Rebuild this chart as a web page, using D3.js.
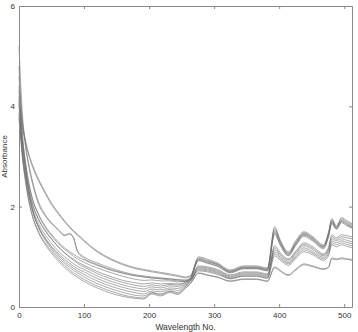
<!DOCTYPE html>
<html>
<head>
<meta charset="utf-8">
<script src="https://cdn.jsdelivr.net/npm/d3@7"></script>
<style>
  body { margin: 0; background: #fff; }
  text { font-family: "Liberation Sans", Arial, sans-serif; }
</style>
</head>
<body>
<div id="chart"></div>
<script>
"use strict"

let wavelengths = [0, 5, 10, 15, 20, 30, 40, 50, 60, 70, 78, 84, 90, 100, 120, 140, 160, 180, 192, 204, 218, 232, 244, 256, 264, 276, 290, 305, 325, 345, 365, 382, 393, 402, 414, 426, 438, 452, 468, 476, 481, 488, 496, 504, 512];

let spectrum1 = [4.0, 3.6, 3.28, 3.02, 2.82, 2.52, 2.27, 2.04, 1.86, 1.7, 1.58, 1.5, 1.43, 1.31, 1.1, 0.95, 0.84, 0.76, 0.73, 0.7, 0.67, 0.64, 0.61, 0.58, 0.62, 0.98, 0.93, 0.86, 0.72, 0.8, 0.8, 0.76, 1.56, 1.3, 1.08, 1.3, 1.48, 1.38, 1.22, 1.48, 1.74, 1.6, 1.76, 1.7, 1.64];
let spectrum2 = [4.15, 3.66, 3.32, 3.06, 2.86, 2.55, 2.3, 2.07, 1.89, 1.72, 1.6, 1.52, 1.45, 1.33, 1.12, 0.97, 0.86, 0.78, 0.75, 0.72, 0.69, 0.66, 0.63, 0.6, 0.63, 1.0, 0.95, 0.88, 0.74, 0.82, 0.82, 0.78, 1.6, 1.33, 1.1, 1.33, 1.5, 1.4, 1.24, 1.5, 1.76, 1.62, 1.78, 1.72, 1.66];
let spectrum3 = [4.6, 3.75, 3.2, 2.8, 2.5, 2.05, 1.82, 1.66, 1.54, 1.42, 1.45, 1.38, 1.12, 1.0, 0.88, 0.78, 0.7, 0.64, 0.62, 0.6, 0.58, 0.56, 0.54, 0.52, 0.56, 0.82, 0.8, 0.75, 0.64, 0.7, 0.7, 0.66, 1.22, 1.08, 0.96, 1.12, 1.28, 1.2, 1.06, 1.2, 1.44, 1.38, 1.44, 1.42, 1.4];
let spectrum4 = [5.2, 3.9, 3.25, 2.85, 2.55, 2.1, 1.85, 1.68, 1.55, 1.44, 1.47, 1.36, 1.1, 0.97, 0.85, 0.75, 0.68, 0.62, 0.6, 0.58, 0.56, 0.54, 0.52, 0.51, 0.55, 0.8, 0.78, 0.73, 0.62, 0.68, 0.68, 0.64, 1.18, 1.05, 0.94, 1.1, 1.25, 1.17, 1.04, 1.16, 1.4, 1.35, 1.4, 1.38, 1.36];
let spectrum5 = [3.9, 3.3, 2.85, 2.45, 2.18, 1.85, 1.62, 1.45, 1.3, 1.18, 1.1, 1.05, 1.0, 0.94, 0.83, 0.74, 0.67, 0.62, 0.6, 0.58, 0.57, 0.56, 0.55, 0.54, 0.6, 0.95, 0.9, 0.84, 0.7, 0.78, 0.78, 0.74, 1.5, 1.27, 1.05, 1.27, 1.45, 1.35, 1.2, 1.44, 1.7, 1.57, 1.72, 1.66, 1.6];
let spectrum6 = [4.3, 3.45, 2.9, 2.5, 2.2, 1.84, 1.6, 1.42, 1.27, 1.15, 1.07, 1.01, 0.96, 0.89, 0.78, 0.69, 0.61, 0.55, 0.53, 0.54, 0.52, 0.52, 0.5, 0.52, 0.58, 0.93, 0.88, 0.82, 0.69, 0.77, 0.77, 0.73, 1.47, 1.24, 1.03, 1.25, 1.43, 1.33, 1.18, 1.42, 1.68, 1.56, 1.7, 1.64, 1.58];
let spectrum7 = [3.8, 3.15, 2.7, 2.35, 2.08, 1.74, 1.52, 1.35, 1.2, 1.08, 1.0, 0.95, 0.9, 0.83, 0.71, 0.61, 0.53, 0.48, 0.46, 0.48, 0.46, 0.47, 0.46, 0.5, 0.57, 0.96, 0.91, 0.85, 0.71, 0.79, 0.79, 0.75, 1.53, 1.28, 1.06, 1.28, 1.46, 1.36, 1.2, 1.45, 1.71, 1.58, 1.73, 1.67, 1.61];
let spectrum8 = [4.05, 3.25, 2.75, 2.38, 2.1, 1.76, 1.54, 1.36, 1.21, 1.08, 0.99, 0.93, 0.87, 0.8, 0.67, 0.57, 0.49, 0.43, 0.41, 0.44, 0.42, 0.45, 0.44, 0.49, 0.57, 0.92, 0.87, 0.81, 0.68, 0.76, 0.76, 0.72, 1.45, 1.22, 1.02, 1.23, 1.41, 1.31, 1.16, 1.4, 1.66, 1.55, 1.68, 1.62, 1.57];
let spectrum9 = [4.4, 3.35, 2.75, 2.32, 2.02, 1.66, 1.44, 1.27, 1.12, 1.0, 0.92, 0.86, 0.81, 0.75, 0.62, 0.52, 0.44, 0.38, 0.36, 0.4, 0.38, 0.42, 0.41, 0.47, 0.54, 0.78, 0.76, 0.71, 0.6, 0.66, 0.66, 0.62, 1.14, 1.02, 0.91, 1.07, 1.22, 1.14, 1.02, 1.14, 1.36, 1.32, 1.36, 1.33, 1.3];
let spectrum10 = [3.75, 3.05, 2.58, 2.22, 1.95, 1.6, 1.38, 1.21, 1.07, 0.95, 0.87, 0.81, 0.76, 0.7, 0.57, 0.47, 0.39, 0.33, 0.31, 0.36, 0.34, 0.38, 0.37, 0.45, 0.53, 0.76, 0.74, 0.69, 0.58, 0.64, 0.64, 0.6, 1.1, 0.99, 0.88, 1.03, 1.18, 1.1, 0.99, 1.1, 1.32, 1.28, 1.32, 1.29, 1.26];
let spectrum11 = [4.1, 3.15, 2.62, 2.24, 1.96, 1.6, 1.37, 1.19, 1.04, 0.91, 0.83, 0.77, 0.72, 0.65, 0.52, 0.42, 0.34, 0.28, 0.26, 0.32, 0.3, 0.35, 0.33, 0.43, 0.52, 0.74, 0.72, 0.67, 0.57, 0.62, 0.62, 0.58, 1.06, 0.96, 0.86, 1.0, 1.14, 1.07, 0.96, 1.06, 1.28, 1.24, 1.28, 1.25, 1.22];
let spectrum12 = [4.8, 3.5, 2.8, 2.3, 1.98, 1.58, 1.34, 1.15, 1.0, 0.87, 0.79, 0.73, 0.68, 0.6, 0.47, 0.37, 0.29, 0.23, 0.22, 0.29, 0.26, 0.32, 0.29, 0.41, 0.51, 0.72, 0.7, 0.65, 0.56, 0.61, 0.61, 0.57, 1.02, 0.93, 0.83, 0.97, 1.1, 1.04, 0.93, 1.02, 1.24, 1.2, 1.24, 1.21, 1.18];
let spectrum13 = [3.85, 3.0, 2.5, 2.12, 1.85, 1.5, 1.28, 1.11, 0.96, 0.83, 0.74, 0.68, 0.63, 0.55, 0.42, 0.32, 0.24, 0.19, 0.18, 0.28, 0.24, 0.31, 0.27, 0.39, 0.48, 0.68, 0.64, 0.6, 0.52, 0.56, 0.56, 0.52, 0.8, 0.73, 0.64, 0.76, 0.86, 0.82, 0.76, 0.8, 0.98, 0.96, 0.98, 0.96, 0.95];
let spectrum14 = [4.2, 3.1, 2.52, 2.12, 1.84, 1.48, 1.25, 1.07, 0.92, 0.79, 0.7, 0.64, 0.59, 0.51, 0.38, 0.28, 0.21, 0.17, 0.16, 0.26, 0.22, 0.29, 0.25, 0.37, 0.47, 0.67, 0.63, 0.59, 0.51, 0.55, 0.55, 0.51, 0.78, 0.71, 0.63, 0.74, 0.84, 0.8, 0.75, 0.79, 0.96, 0.94, 0.96, 0.95, 0.93];

let spectra = [spectrum1, spectrum2, spectrum3, spectrum4, spectrum5, spectrum6, spectrum7,
               spectrum8, spectrum9, spectrum10, spectrum11, spectrum12, spectrum13, spectrum14];

let xTicks = [0, 100, 200, 300, 400, 500];
let yTicks = [0, 2, 4, 6];
let xTitle = "Wavelength No.";
let yTitle = "Absorbance";

function drawChart(){
    let width = 358, height = 332;
    let margin = {top: 6, right: 6, bottom: 25, left: 19};

    let svg = d3.select("#chart")
        .append("svg")
        .attr("width", width)
        .attr("height", height)

    let x = d3.scaleLinear()
        .domain([0, 512])
        .range([margin.left, width - margin.right]);

    let y = d3.scaleLinear()
        .domain([0, 6])
        .range([height - margin.bottom, margin.top]);

    // spectra lines
    let line = d3.line()
        .x((d, i) => x(wavelengths[i]))
        .y(d => y(d))
        .curve(d3.curveMonotoneX);

    svg.append("g")
        .selectAll("path")
        .data(spectra)
        .join("path")
        .attr("d", line)
        .style("fill", "none")
        .style("stroke", "#707070")
        .style("stroke-width", 0.7)
        .style("opacity", 0.85)

    // box axes, ticks pointing inward like matlab
    let fmt = d3.format("d");
    let bottom = svg.append("g")
        .attr("transform", "translate(0," + y(0) + ")")
        .call(d3.axisBottom(x).tickValues(xTicks).tickFormat(fmt).tickSize(-3).tickSizeOuter(0).tickPadding(5));
    let top = svg.append("g")
        .attr("transform", "translate(0," + y(6) + ")")
        .call(d3.axisTop(x).tickValues(xTicks).tickSize(-3).tickSizeOuter(0).tickFormat(""));
    let left = svg.append("g")
        .attr("transform", "translate(" + x(0) + ",0)")
        .call(d3.axisLeft(y).tickValues(yTicks).tickFormat(fmt).tickSize(-3).tickSizeOuter(0).tickPadding(4));
    let right = svg.append("g")
        .attr("transform", "translate(" + x(512) + ",0)")
        .call(d3.axisRight(y).tickValues(yTicks).tickSize(-3).tickSizeOuter(0).tickFormat(""));

    [bottom, top, left, right].forEach(function(g){
        g.select(".domain").style("stroke", "#8a8a8a")
        g.selectAll(".tick line").style("stroke", "#8a8a8a")
        g.selectAll("text")
            .style("font-size", "8px")
            .style("fill", "#333")
            .style("font-family", "'Liberation Sans', Arial, sans-serif")
    })

    svg.append("text")
        .attr("x", (x(0) + x(512)) / 2)
        .attr("y", 330)
        .attr("text-anchor", "middle")
        .style("font-size", "8.5px")
        .style("fill", "#333")
        .text(xTitle)

    svg.append("text")
        .attr("transform", "translate(7," + ((y(0) + y(6)) / 2) + ") rotate(-90)")
        .attr("text-anchor", "middle")
        .style("font-size", "8px")
        .style("fill", "#333")
        .text(yTitle)
}

drawChart();
</script>
</body>
</html>
